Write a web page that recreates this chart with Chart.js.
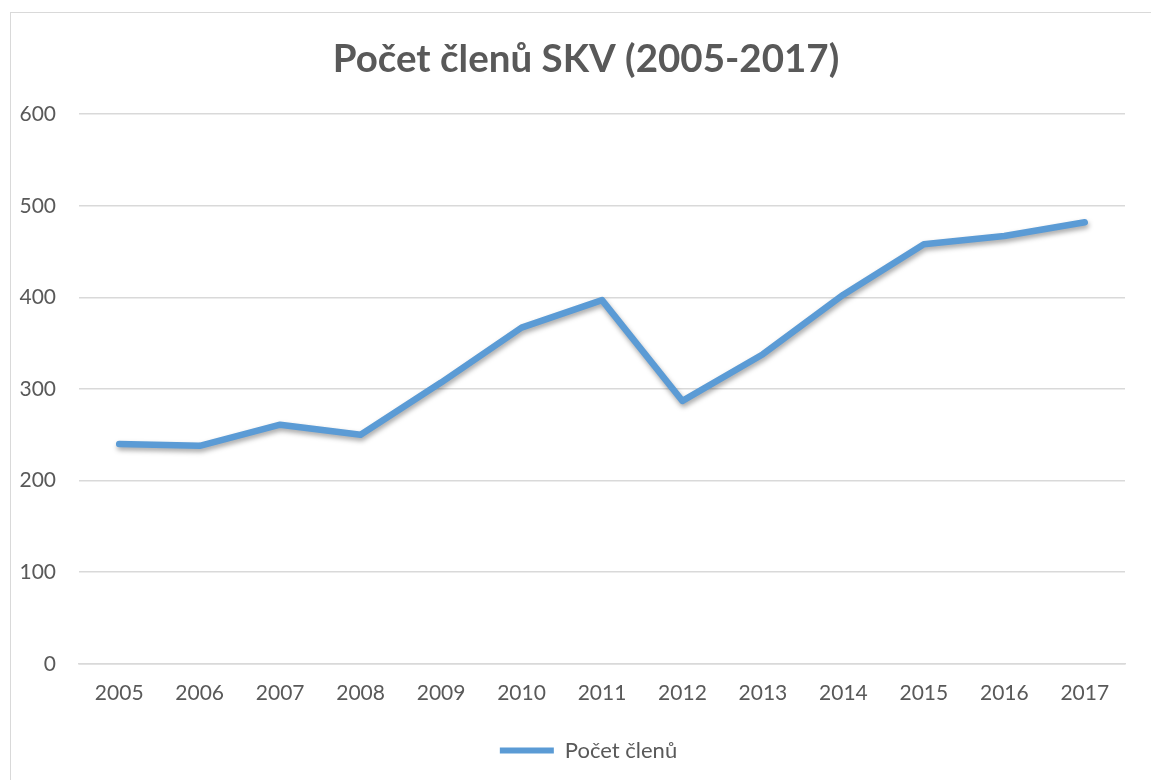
<!DOCTYPE html>
<html>
<head>
<meta charset="utf-8">
<script src="https://cdn.jsdelivr.net/npm/chart.js@4"></script>
<style>
html,body{margin:0;padding:0;background:#fff;overflow:hidden;}
#frame{position:absolute;left:10px;top:12px;width:1200px;height:800px;border:1px solid #d9d9d9;box-sizing:border-box;}
#wrap{position:absolute;left:0;top:0;width:1151px;height:780px;}
</style>
</head>
<body>
<div id="frame"></div>
<div id="wrap"><canvas id="c" width="1151" height="780"></canvas></div>
<script>
const years = ['2005','2006','2007','2008','2009','2010','2011','2012','2013','2014','2015','2016','2017'];
const members = [240, 238, 261, 250, 307, 367, 397, 287, 338, 403, 458, 467, 482];
const seriesName = 'Počet členů';
const chartTitle = 'Počet členů SKV (2005-2017)';
const yTicks = [0, 100, 200, 300, 400, 500, 600];

const FONT = 'Lato, "Open Sans", sans-serif';
const GREY = '#595959';
const BLUE = '#5b9bd5';

const shadowPlugin = {
  id: 'shadow',
  beforeDatasetDraw(chart) {
    const ctx = chart.ctx;
    ctx.save();
    ctx.shadowColor = 'rgba(0,0,0,0.35)';
    ctx.shadowBlur = 5;
    ctx.shadowOffsetX = 1;
    ctx.shadowOffsetY = 3;
  },
  afterDatasetDraw(chart) {
    chart.ctx.restore();
  }
};

// centre title and legend over the whole frame rather than the plot box
const centerPlugin = {
  id: 'centerBlocks',
  afterLayout(chart) {
    if (chart.titleBlock) chart.titleBlock.left = 47;
    if (chart.legend) chart.legend.left = 52;
  }
};

new Chart(document.getElementById('c'), {
  type: 'line',
  data: {
    labels: years,
    datasets: [{
      label: seriesName,
      data: members,
      borderColor: BLUE,
      backgroundColor: BLUE,
      borderWidth: 6.5,
      pointRadius: 0,
      tension: 0,
      borderJoinStyle: 'round',
      borderCapStyle: 'round',
      fill: false
    }]
  },
  plugins: [shadowPlugin, centerPlugin],
  options: {
    responsive: false,
    animation: false,
    devicePixelRatio: 1,
    layout: { padding: { left: 0, right: 26, top: 0, bottom: 8.5 } },
    plugins: {
      title: {
        display: true,
        text: chartTitle,
        color: GREY,
        font: { family: FONT, size: 38.5, weight: 'bold', lineHeight: 1.2 },
        padding: { top: 36, bottom: 32 }
      },
      legend: {
        display: true,
        position: 'bottom',
        labels: {
          color: GREY,
          font: { family: FONT, size: 22 },
          boxWidth: 54,
          boxHeight: 6,
          padding: 16.5,
          generateLabels(chart) {
            return Chart.defaults.plugins.legend.labels.generateLabels(chart).map(l => {
              l.lineWidth = 0;
              l.fillStyle = BLUE;
              l.strokeStyle = BLUE;
              return l;
            });
          }
        }
      },
      tooltip: { enabled: false }
    },
    scales: {
      x: {
        offset: true,
        grid: { display: false, drawTicks: false },
        border: { display: true, color: '#d9d9d9', width: 1.5 },
        ticks: { color: GREY, font: { family: FONT, size: 21 }, padding: 17, maxRotation: 0 }
      },
      y: {
        min: 0,
        max: 600,
        afterBuildTicks(scale) { scale.ticks = yTicks.map(v => ({ value: v })); },
        afterFit(scale) { scale.width = 79; },
        grid: { color: '#d9d9d9', lineWidth: 1.5, drawTicks: false },
        border: { display: false },
        ticks: { color: GREY, font: { family: FONT, size: 21 }, padding: 23 }
      }
    }
  }
});
</script>
</body>
</html>
